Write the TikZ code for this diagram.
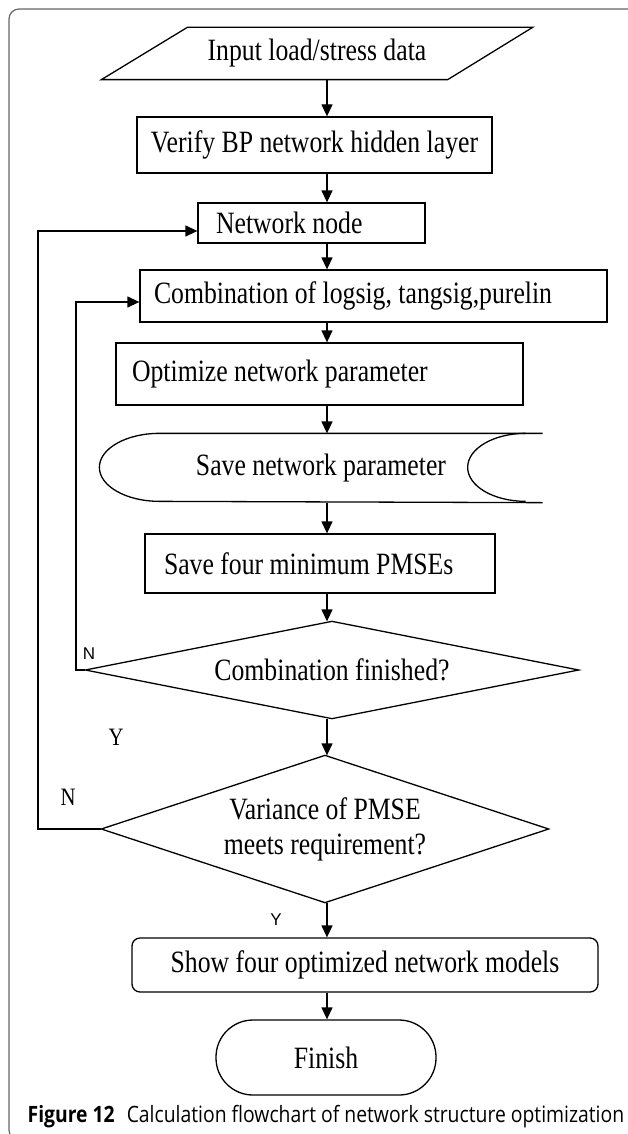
\documentclass[tikz,border=0pt]{standalone}
\usepackage{fontspec}
\setmainfont{Liberation Serif}[FakeStretch=0.83]
\newfontfamily\capfont{Open Sans}[FakeStretch=0.86]
\newfontfamily\lblsans{Liberation Sans}
\usetikzlibrary{arrows.meta}
\begin{document}
\begin{tikzpicture}[x=1pt,y=-1pt,
  line width=1.3pt,
  font=\fontsize{31}{34}\selectfont,
  arr/.style={-{Triangle[width=11pt,length=12pt]}},
  plain/.style={inner sep=0pt},
  lbox/.style={draw, inner sep=0pt},
  leftbox/.style={draw, inner ysep=0pt},
  lblserif/.style={font=\fontsize{25}{27}\selectfont},
  lblsansstyle/.style={font=\lblsans\fontsize{17}{20}\selectfont},
]
\useasboundingbox (0,0) rectangle (627,1134);
% outer frame
\draw[line width=1.2pt, black!60, rounded corners=10pt] (640,9) -- (9,9) -- (9,1140) -- (40,1140);

\coordinate (ax) at (327,0);

% input parallelogram
\node[plain, minimum width=430, minimum height=51] (inp) at (317,53.5) {Input load/stress data};
\draw (inp.south west) -- ([xshift=86pt]inp.north west) -- (inp.north east) -- ([xshift=-85pt]inp.south east) -- cycle;

\node[lbox, minimum width=355, minimum height=56] (verify) at (314.5,145) {Verify BP network hidden layer};

\node[leftbox, inner xsep=18pt, minimum height=40] (nn) at (311.5,223) {\makebox[191pt][l]{Network node}};

\node[leftbox, inner xsep=14pt, minimum height=52] (comb) at (373.5,296) {\makebox[439pt][l]{Combination of logsig, tangsig,purelin}};

\node[leftbox, inner xsep=16pt, minimum height=62] (opt) at (319.5,374) {\makebox[375pt][l]{Optimize network parameter}};

% save network parameter (stored data)
\node[plain, minimum width=442, minimum height=68] (save) at (321,468) {Save network parameter};
\draw (save.north east) -- ([xshift=60pt]save.north west)
  arc[start angle=90, end angle=270, x radius=60pt, y radius=34pt]
  -- (save.south east);
\draw ([xshift=-17pt]save.north east) arc[start angle=90, end angle=270, x radius=58pt, y radius=34pt];

\node[leftbox, inner xsep=19pt, minimum height=59] (four) at (320,563.5) {\makebox[312pt][l]{Save four minimum PMSEs}};

% decision 1
\node[plain, minimum width=492, minimum height=96] (d1) at (332,670) {Combination finished?};
\draw (d1.north) -- (d1.east) -- (d1.south) -- (d1.west) -- cycle;

% decision 2
\node[plain, minimum width=446, minimum height=146, align=center, font=\fontsize{31}{35}\selectfont] (d2) at (325,829) {Variance of PMSE\\meets requirement?};
\draw (d2.north) -- (d2.east) -- (d2.south) -- (d2.west) -- cycle;

\node[lbox, rounded corners=8pt, minimum width=466, minimum height=54] (show) at (365,965) {Show four optimized network models};

\node[lbox, rounded corners=37pt, minimum width=220, minimum height=75] (fin) at (326,1057.5) {Finish};

% main arrows
\draw[arr] (inp.south -| ax) -- (verify.north -| ax);
\draw[arr] (verify.south -| ax) -- (nn.north -| ax);
\draw[arr] (nn.south -| ax) -- (comb.north -| ax);
\draw[arr] (comb.south -| ax) -- (opt.north -| ax);
\draw[arr] (opt.south -| ax) -- (save.north -| ax);
\draw[arr] (save.south -| ax) -- (four.north -| ax);
\draw[arr] (four.south -| ax) -- (d1.north -| ax);
\draw[arr] (d1.south -| ax) -- (d2.north -| ax);
\draw[arr] (d2.south -| ax) -- (show.north -| ax);
\draw[arr] (show.south -| ax) -- (fin.north -| ax);

% loops
\coordinate (li) at (76,302);
\coordinate (lo) at (38,231);
\draw[arr] (d1.west) -| (li) -- (li -| comb.west);
\draw[arr] (d2.west) -| (lo) -- (lo -| nn.west);

% labels
\node[plain, lblsansstyle] (n1) at (89,654) {N};
\node[plain, lblserif] (y1) at (116,737) {Y};
\node[plain, lblserif] (n2) at (68,797) {N};
\node[plain, lblsansstyle] (y2) at (276,920) {Y};

% caption
\node[plain, anchor=west, font=\capfont\fontsize{22.5}{24}\selectfont] (cap) at (27,1117) {\textbf{Figure 12}\hspace{12pt}Calculation flowchart of network structure optimization};
\end{tikzpicture}
\end{document}
